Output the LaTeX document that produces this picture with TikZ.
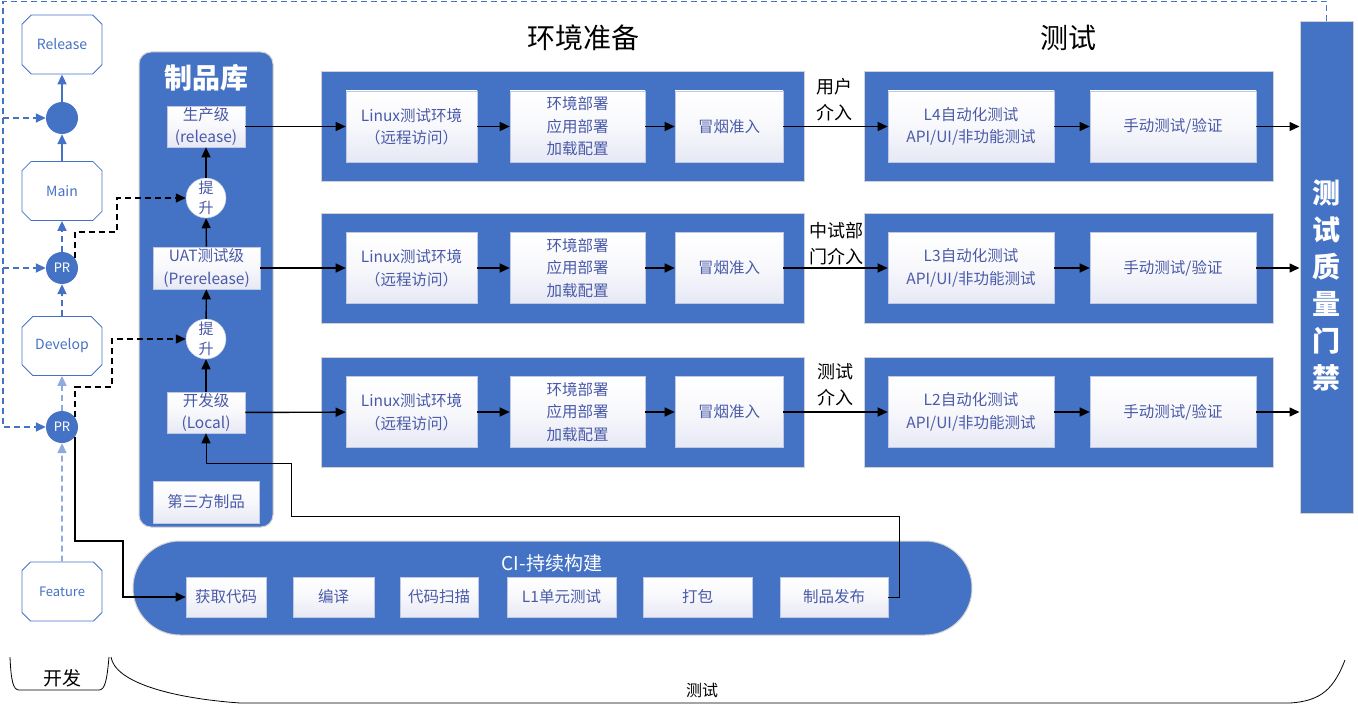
\documentclass[tikz,border=0pt]{standalone}
\usepackage{fontspec}
\setmainfont{Noto Sans CJK SC}
\usetikzlibrary{arrows.meta,shapes.misc}
\definecolor{mblue}{HTML}{4472C4}
\definecolor{tblue}{HTML}{4A5AA8}
\definecolor{lblue}{HTML}{8FAADC}
\definecolor{shadeA}{HTML}{E6E8F4}
\definecolor{bbord}{HTML}{BFC9E3}
\begin{document}
\begin{tikzpicture}[x=1pt,y=-1pt,
  bluebox/.style={fill=mblue, draw=gray!35, line width=1pt, inner sep=0pt},
  wbox/.style={draw=bbord, line width=0.6pt, top color=white, bottom color=shadeA, middle color=white!70!shadeA, inner sep=0pt, align=center, text=tblue, font=\fontsize{15.5}{22.5}\selectfont},
  oct/.style={chamfered rectangle, chamfered rectangle xsep=8pt, draw=mblue, line width=0.8pt, fill=white, minimum width=80, minimum height=59, inner sep=0pt, text=mblue, font=\fontsize{14}{16}\selectfont},
  prc/.style={circle, fill=mblue, minimum size=32, inner sep=0pt, text=white, font=\fontsize{13}{14}\selectfont},
  tsc/.style={circle, fill=white, draw=bbord, line width=0.5pt, minimum size=40, inner sep=0pt, align=center, text=tblue, font=\fontsize{15}{20}\selectfont},
  karr/.style={-{Triangle[length=10pt,width=9pt]}, line width=1.4pt, black},
  kthin/.style={-{Triangle[length=10pt,width=9pt]}, line width=1pt, black},
  kdarr/.style={-{Triangle[length=10pt,width=9pt]}, line width=1.4pt, black, dash pattern=on 6pt off 4pt},
  barr/.style={-{Triangle[length=10pt,width=9pt]}, line width=1.6pt, mblue},
  bdarr/.style={-{Triangle[length=10pt,width=9pt]}, line width=1.8pt, mblue, dash pattern=on 6pt off 4pt},
  ldarr/.style={-{Triangle[length=10pt,width=9pt]}, line width=1.6pt, lblue, dash pattern=on 6pt off 4pt},
  lbl/.style={align=center, text=black, font=\fontsize{18}{26}\selectfont, inner sep=0pt},
  head/.style={text=black, font=\fontsize{28}{30}\selectfont, inner sep=0pt}
]
\useasboundingbox (0,0) rectangle (1358,709);

% headings
\node[head] (h1) at (583,38) {环境准备};
\node[head] (h2) at (1068,38) {测试};

% left branch column
\node[oct] (rel) at (62,44.5) {Release};
\node[circle, fill=mblue, minimum size=32, inner sep=0pt] (c0) at (62,118) {};
\node[oct] (main) at (62,191) {Main};
\node[prc] (pr1) at (62,268) {PR};
\node[oct] (dev) at (62,346) {Develop};
\node[prc] (pr2) at (62,427) {PR};
\node[oct, font=\fontsize{13}{15}\selectfont] (feat) at (62,591.5) {Feature};

\draw[barr] (main) -- (c0);
\draw[barr] (c0) -- (rel);
\draw[bdarr] (pr1) -- (main);
\draw[bdarr] (dev) -- (pr1);
\draw[ldarr] (pr2) -- (dev);
\draw[ldarr] (feat) -- (pr2);

% artifact repository
\node[bluebox, rounded corners=12pt, minimum width=134, minimum height=475] (repo) at (206,289.5) {};
\node[text=white, font=\fontsize{28}{30}\selectfont\bfseries, inner sep=0pt] (repot) at (206,78) {制品库};
\node[wbox, minimum width=78, minimum height=41] (prod) at (206,126.5) {生产级\\(release)};
\node[tsc] (ts1) at (206,198) {提\\升};
\node[wbox, minimum width=107, minimum height=42] (uat) at (206.5,268) {UAT测试级\\(Prerelease)};
\node[tsc] (ts2) at (206,339) {提\\升};
\node[wbox, minimum width=78, minimum height=41] (loc) at (206,412.5) {开发级\\(Local)};
\node[wbox, minimum width=106, minimum height=42] (third) at (206,502) {第三方制品};

\draw[karr] (ts1) -- (prod);
\draw[karr] (uat) -- (ts1);
\draw[karr] (ts2) -- (uat);
\draw[karr] (loc) -- (ts2);

% environment rows
\foreach \r/\y in {1/126.5, 2/268, 3/412}{
  \node[bluebox, minimum width=483, minimum height=110] (env\r) at (562.5,\y) {};
  \node[wbox, minimum width=131, minimum height=71] (lx\r) at (411.5,\y) {Linux测试环境\\（远程访问）};
  \node[wbox, minimum width=135, minimum height=71] (dep\r) at (577.5,\y) {环境部署\\应用部署\\加载配置};
  \node[wbox, minimum width=108, minimum height=71] (sm\r) at (729,\y) {冒烟准入};
  \node[bluebox, minimum width=409, minimum height=110] (tst\r) at (1068.5,\y) {};
  \node[wbox, minimum width=166, minimum height=71] (hand\r) at (1173,\y) {手动测试/验证};
}
\node[wbox, minimum width=166, minimum height=71] (at1) at (971,126.5) {L4自动化测试\\API/UI/非功能测试};
\node[wbox, minimum width=166, minimum height=71] (at2) at (971,268) {L3自动化测试\\API/UI/非功能测试};
\node[wbox, minimum width=166, minimum height=71] (at3) at (971,412) {L2自动化测试\\API/UI/非功能测试};

% quality gate
\node[bluebox, minimum width=53, minimum height=491] (gate) at (1326.5,267.5) {};
\node[text=white, align=center, font=\fontsize{28}{37}\selectfont\bfseries, inner sep=0pt] (gatet) at (1326.5,285) {测\\试\\质\\量\\门\\禁};

% labels
\node[lbl] (u1) at (834,100) {用户\\介入};
\node[lbl] (u2) at (836,244) {中试部\\门介入};
\node[lbl] (u3) at (835,385) {测试\\介入};

% row arrows
\draw[karr] (prod) -- (lx1);
\draw[karr] (uat) -- (lx2);
\draw[karr] (loc) -- (lx3);
\foreach \r in {1,2,3}{
  \draw[karr] (lx\r) -- (dep\r);
  \draw[karr] (dep\r) -- (sm\r);
  \draw[karr] (sm\r) -- (at\r);
  \draw[karr] (at\r) -- (hand\r);
  \draw[karr] (hand\r.east) -- (hand\r.east -| gate.west);
}

% CI
\node[bluebox, rounded corners=47pt, minimum width=839, minimum height=94] (ci) at (552.5,588) {};
\node[text=white, font=\fontsize{19}{21}\selectfont, inner sep=0pt] (cit) at (552,563) {CI-持续构建};
\node[wbox, minimum width=80, minimum height=40] (get) at (226,597) {获取代码};
\node[wbox, minimum width=81, minimum height=40] (cmp) at (333.5,597) {编译};
\node[wbox, minimum width=78, minimum height=40] (scan) at (439,597) {代码扫描};
\node[wbox, minimum width=109, minimum height=40] (ut) at (561.5,597) {L1单元测试};
\node[wbox, minimum width=109, minimum height=40] (pkg) at (697.5,597) {打包};
\node[wbox, minimum width=108, minimum height=40] (pub) at (834,597) {制品发布};

% black connectors
\coordinate (k1) at (117,232);
\coordinate (k2) at (112,387);
\coordinate (k3) at (123,541);
\draw[kdarr] (pr1.36) |- (k1) |- (ts1.west);
\draw[kdarr] (pr2.36) |- (k2) |- (ts2.west);
\draw[karr] (pr2.-36) |- (k3) |- (get.west);
\coordinate (r1) at (899,516);
\coordinate (r2) at (291,463);
\draw[kthin] (pub.east) -| (r1) -| (r2) -| (loc.south);

% blue dashed feedback loop
\coordinate (tl) at (3,1.5);
\draw[bdarr] (gate.north) |- (tl) |- (pr2.west);
\draw[bdarr] (tl |- c0) -- (c0);
\draw[bdarr] (tl |- pr1) -- (pr1);

% bottom brackets
\draw[line width=0.8pt] (10,657) .. controls (11,680) and (13,690) .. (19,690) -- (99,690) .. controls (105,690) and (107,680) .. (109,657);
\node[text=black, font=\fontsize{19}{21}\selectfont, inner sep=0pt] (dv) at (62,678) {开发};
\draw[line width=0.8pt] (111,657) .. controls (115,682) and (170,698) .. (240,703) -- (1290,703) .. controls (1322,701) and (1334,688) .. (1345,660);
\node[text=black, font=\fontsize{16}{18}\selectfont, inner sep=0pt] (tt) at (702,690) {测试};
\end{tikzpicture}
\end{document}
